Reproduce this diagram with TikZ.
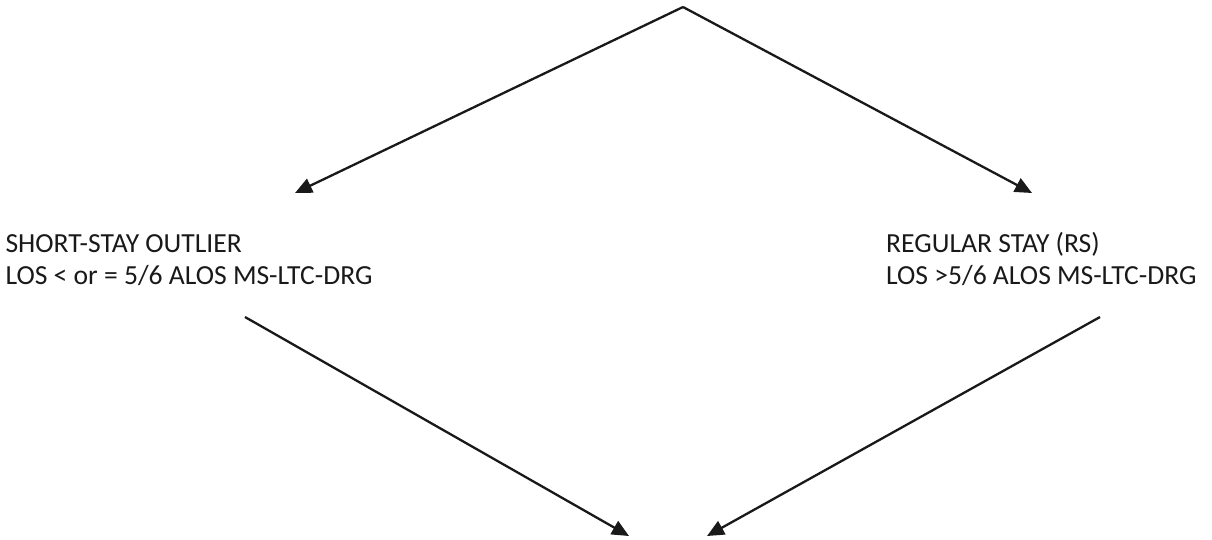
\documentclass[tikz,border=0pt]{standalone}
\usepackage{fontspec}
\setmainfont{Carlito}
\usetikzlibrary{arrows.meta}
\begin{document}
\begin{tikzpicture}[x=1pt,y=-1pt,
  conn/.style={line width=2.3pt,draw=black!90,-{Triangle[length=17pt,width=15pt]}},
  lbl/.style={anchor=base west,inner sep=0pt,text=black!90,font=\fontsize{27.6}{31.5}\selectfont}]
\useasboundingbox (0,0) rectangle (1212,539);
\coordinate (top) at (683,7);
\node[lbl] (sso) at (5.3,252.5) {\begin{tabular}[t]{@{}l@{}}SHORT-STAY OUTLIER\\LOS < or = 5/6 ALOS MS-LTC-DRG\end{tabular}};
\node[lbl] (rs) at (886,252.5) {\begin{tabular}[t]{@{}l@{}}REGULAR STAY (RS)\\LOS >5/6 ALOS MS-LTC-DRG\end{tabular}};
\coordinate (ssoin) at (295,193);
\coordinate (rsin) at (1032,193);
\coordinate (ssoout) at (245,317);
\coordinate (rsout) at (1100,317);
\coordinate (botl) at (629,536);
\coordinate (botr) at (707,536);
\draw[conn] (top) -- (ssoin);
\draw[conn] (top) -- (rsin);
\draw[conn] (ssoout) -- (botl);
\draw[conn] (rsout) -- (botr);
\end{tikzpicture}
\end{document}
